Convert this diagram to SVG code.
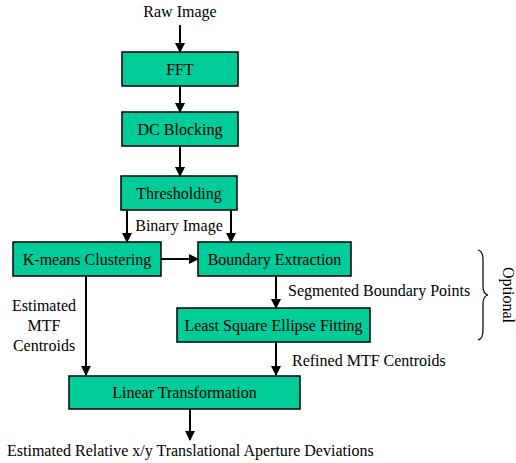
<svg xmlns="http://www.w3.org/2000/svg" width="516" height="463" viewBox="0 0 516 463">
<defs>
<marker id="ah" markerWidth="10" markerHeight="10" refX="9" refY="5" orient="auto" markerUnits="userSpaceOnUse">
<path d="M0,0 L10,5 L0,10 Z" fill="#000"/>
</marker>
<style>
.box{fill:#00CC99;stroke:#000;stroke-width:1.5}
.t{font-family:"Liberation Serif","Times New Roman",serif;font-size:16px;fill:#000}
.c{text-anchor:middle}
.ln{stroke:#000;stroke-width:2;fill:none}
.ar{marker-end:url(#ah)}
</style>
</defs>
<rect width="516" height="463" fill="#fff"/>
<text class="t c" x="180" y="17">Raw Image</text>
<g id="fft"><rect class="box" x="122" y="52" width="116" height="34"/><text class="t c" x="180" y="75">FFT</text></g>
<g id="dc"><rect class="box" x="122" y="112" width="116" height="34"/><text class="t c" x="180" y="135">DC Blocking</text></g>
<g id="thr"><rect class="box" x="121" y="176" width="116" height="34"/><text class="t c" x="179" y="199">Thresholding</text></g>
<g id="km"><rect class="box" x="13" y="242" width="148" height="34"/><text class="t c" x="87" y="265">K-means Clustering</text></g>
<g id="be"><rect class="box" x="198" y="242" width="153" height="34"/><text class="t c" x="274.5" y="265">Boundary Extraction</text></g>
<g id="lse"><rect class="box" x="177" y="308" width="193" height="34"/><text class="t c" x="273.5" y="331">Least Square Ellipse Fitting</text></g>
<g id="lt"><rect class="box" x="69" y="376" width="231" height="33"/><text class="t c" x="184.5" y="398">Linear Transformation</text></g>
<g id="connectors">
<line class="ln ar" x1="180" y1="25" x2="180" y2="52"/>
<line class="ln ar" x1="180" y1="86" x2="180" y2="112"/>
<line class="ln ar" x1="180" y1="146" x2="180" y2="176"/>
<line class="ln ar" x1="127" y1="210" x2="127" y2="242"/>
<line class="ln ar" x1="231" y1="210" x2="231" y2="242"/>
<line class="ln ar" x1="161" y1="259" x2="198" y2="259"/>
<line class="ln ar" x1="276" y1="276" x2="276" y2="308"/>
<line class="ln ar" x1="276" y1="342" x2="276" y2="375"/>
<line class="ln ar" x1="86" y1="276" x2="86" y2="375"/>
<line class="ln ar" x1="190" y1="409" x2="190" y2="440"/>
</g>
<text class="t c" x="179" y="231">Binary Image</text>
<text class="t" x="288" y="296">Segmented Boundary Points</text>
<text class="t" x="292" y="366">Refined MTF Centroids</text>
<text class="t c" x="44" y="311">Estimated</text>
<text class="t c" x="44" y="331">MTF</text>
<text class="t c" x="44" y="351">Centroids</text>
<text class="t" x="7" y="456">Estimated Relative x/y Translational Aperture Deviations</text>
<path class="ln" style="stroke-width:1.2" d="M478,250 Q483,251 483,260 L483,286 Q483,294 488,295 Q483,296 483,304 L483,330 Q483,339 478,340"/>
<text class="t c" transform="translate(503,295) rotate(90)">Optional</text>
</svg>
